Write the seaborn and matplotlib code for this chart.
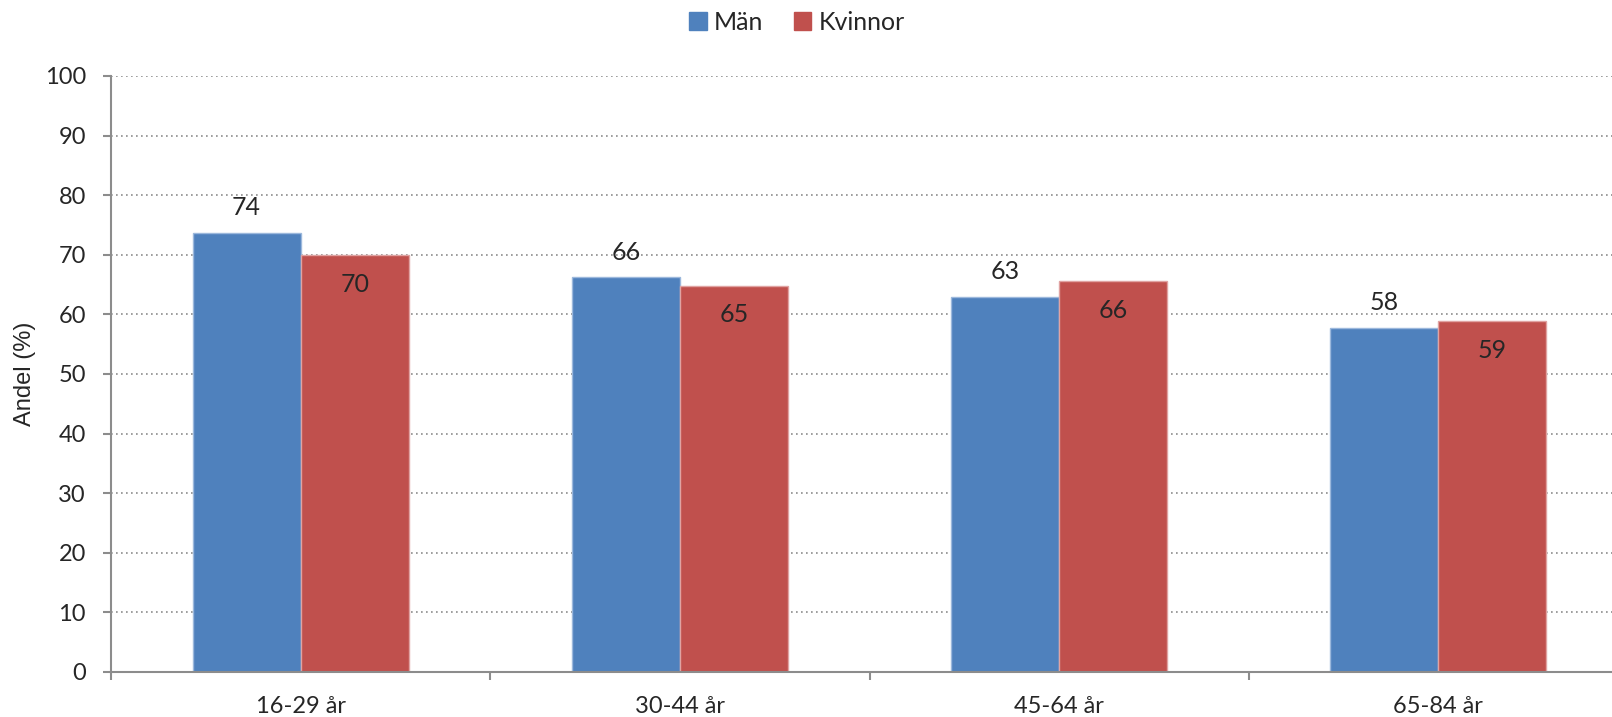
import pandas as pd
import seaborn as sns
import matplotlib.pyplot as plt
from matplotlib.ticker import FixedLocator

# data
age_groups = ['16-29 år', '30-44 år', '45-64 år', '65-84 år']
man_values = [73.6, 66.2, 63.0, 57.8]
kvinnor_values = [69.9, 64.8, 65.6, 58.9]
series_names = ['Män', 'Kvinnor']

df = pd.DataFrame({
    'Ålder': age_groups * 2,
    'Andel': man_values + kvinnor_values,
    'Kön': [series_names[0]] * len(age_groups) + [series_names[1]] * len(age_groups),
})

sns.set_style('white')
plt.rcParams['font.family'] = ['Lato', 'DejaVu Sans']

fig = plt.figure(figsize=(16.12, 7.17), dpi=100)
ax = fig.add_axes([111 / 1612, 45 / 717, (1628 - 111) / 1612, (672 - 76) / 717])

palette = {'Män': '#4F81BD', 'Kvinnor': '#C0504D'}
edges = {'Män': '#9CB8DC', 'Kvinnor': '#E0A3A2'}
sns.barplot(data=df, x='Ålder', y='Andel', hue='Kön', palette=palette,
            width=0.57, saturation=1, ax=ax, legend=False)

for container, name in zip(ax.containers, series_names):
    for bar in container:
        bar.set_edgecolor(edges[name])
        bar.set_linewidth(1)
    if name == 'Män':
        ax.bar_label(container, fmt='%.0f', padding=10, fontsize=18)
    else:
        for bar in container:
            ax.annotate('%.0f' % bar.get_height(),
                        (bar.get_x() + bar.get_width() / 2, bar.get_height()),
                        xytext=(0, -21), textcoords='offset points',
                        ha='center', va='center', fontsize=18)

ax.set_ylim(0, 100)
ax.set_xlim(-0.5, 3.5)
ax.set_yticks(range(0, 101, 10))
ax.yaxis.grid(True, linestyle=(0, (1, 2)), color='#8C8C8C', linewidth=1.2)
ax.set_axisbelow(True)

for side in ['top', 'right']:
    ax.spines[side].set_visible(False)
for side in ['left', 'bottom']:
    ax.spines[side].set_color('#8C8C8C')
    ax.spines[side].set_linewidth(1.5)

ax.tick_params(axis='y', which='major', left=True, length=6, width=1.5,
               color='#8C8C8C', labelsize=17, pad=12)
ax.xaxis.set_minor_locator(FixedLocator([-0.5, 0.5, 1.5, 2.5, 3.5]))
ax.tick_params(axis='x', which='minor', bottom=True, length=6, width=1.5, color='#8C8C8C')
ax.tick_params(axis='x', which='major', length=0, labelsize=17, pad=17)

ax.set_xlabel('')
ax.set_ylabel('Andel (%)', fontsize=17, family=['Liberation Sans'], labelpad=6)

handles = [plt.Rectangle((0, 0), 1, 1, color=palette[n]) for n in series_names]
fig.legend(handles, series_names, loc='center', bbox_to_anchor=(797 / 1612, 1 - 22 / 717),
           ncol=2, frameon=False, fontsize=18, handlelength=0.7, handleheight=0.7,
           handletextpad=0.3, columnspacing=1.2)

plt.savefig('out.png', dpi=100)
